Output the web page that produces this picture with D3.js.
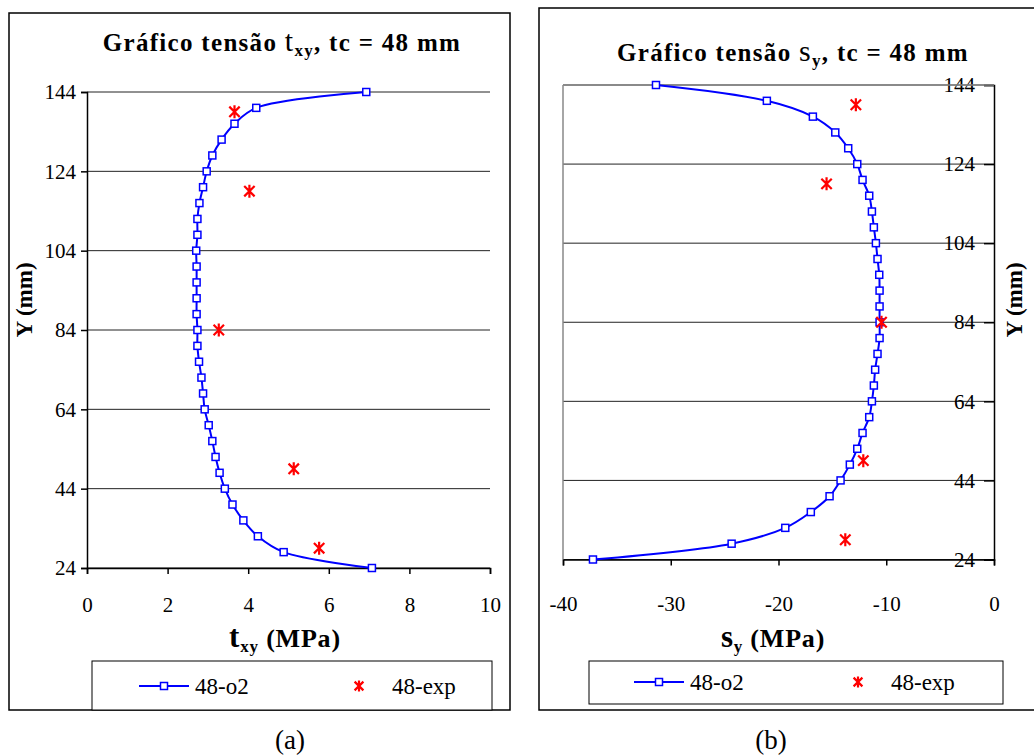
<!DOCTYPE html>
<html><head><meta charset="utf-8">
<script src="https://cdn.jsdelivr.net/npm/d3@7"></script>
<style>
body{margin:0;background:#fff;}
</style></head>
<body><svg id="c" width="1034" height="756"></svg>
<script>
// ---- data ----
const yPos = [24,28,32,36,40,44,48,52,56,60,64,68,72,76,80,84,88,92,96,100,104,108,112,116,120,124,128,132,136,140,144];
const tauXY = [7.07,4.88,4.24,3.88,3.61,3.42,3.29,3.19,3.11,3.02,2.92,2.88,2.84,2.78,2.74,2.74,2.72,2.72,2.72,2.72,2.71,2.74,2.74,2.79,2.88,2.97,3.11,3.34,3.66,4.20,6.93];
const sigmaY = [-37.22,-24.35,-19.37,-17.00,-15.26,-14.24,-13.38,-12.69,-12.20,-11.58,-11.33,-11.15,-11.03,-10.81,-10.62,-10.62,-10.62,-10.62,-10.65,-10.81,-10.96,-11.15,-11.33,-11.58,-12.20,-12.69,-13.53,-14.73,-16.81,-21.08,-31.37];
const expY = [139,119,84,49,29];
const expTau = [3.66,4.03,3.27,5.13,5.76];
const expSigma = [-12.82,-15.54,-10.44,-12.13,-13.80];
const yTicks = [24,44,64,84,104,124,144];
const tauTicks = [0,2,4,6,8,10];
const sigmaTicks = [-40,-30,-20,-10,0];
const seriesNames = ["48-o2","48-exp"];

const FONT = "Liberation Serif";
const svg = d3.select("#c").attr("font-family", FONT);
const blue = "#0000ff", red = "#ff0000";

function asterisk(g, x, y, r){
  const p = d3.path();
  p.moveTo(x, y-r); p.lineTo(x, y+r);
  const d = r*0.8;
  p.moveTo(x-d, y-d); p.lineTo(x+d, y+d);
  p.moveTo(x-d, y+d); p.lineTo(x+d, y-d);
  g.append("path").attr("d", p.toString()).attr("stroke", red).attr("stroke-width", 2.2).attr("fill","none");
}

function drawPanel(opt){
  const g = svg.append("g").attr("font-family", FONT);
  g.append("rect").attr("x",opt.box[0]).attr("y",opt.box[1]).attr("width",opt.box[2]).attr("height",opt.box[3])
    .attr("fill","none").attr("stroke","#000").attr("stroke-width",1.5);
  const x = d3.scaleLinear().domain(opt.xDomain).range(opt.xRange);
  const y = d3.scaleLinear().domain([24,144]).range(opt.yRange);
  g.append("g").selectAll("line").data(yTicks).join("line")
    .attr("x1",opt.xRange[0]).attr("x2",opt.xRange[1]).attr("y1",d=>y(d)).attr("y2",d=>y(d))
    .attr("stroke","#222").attr("stroke-width",1);
  const fmt = d => String(d);
  const xa = g.append("g").attr("transform",`translate(0,${opt.yRange[0]})`)
    .call(d3.axisBottom(x).tickValues(opt.xTicks).tickSize(6).tickPadding(opt.xPad).tickFormat(fmt));
  xa.attr("font-family", FONT);
  xa.select(".domain").attr("stroke","#000").attr("stroke-width",1.5);
  xa.selectAll(".tick line").attr("stroke","#000").attr("stroke-width",1.5);
  xa.selectAll("text").attr("font-family",FONT).attr("font-size",21).attr("fill","#000").attr("dy","0.71em");
  let ya;
  if(opt.right){
    ya = g.append("g").attr("transform",`translate(${opt.xRange[1]},0)`)
      .call(d3.axisLeft(y).tickValues(yTicks).tickSize(10).tickPadding(9).tickFormat(fmt));
    g.append("line").attr("x1",opt.xRange[0]).attr("x2",opt.xRange[0]).attr("y1",opt.yRange[1]).attr("y2",opt.yRange[0])
      .attr("stroke","#888").attr("stroke-width",1.5);
    g.append("line").attr("x1",opt.xRange[0]).attr("x2",opt.xRange[1]).attr("y1",opt.yRange[1]).attr("y2",opt.yRange[1])
      .attr("stroke","#888").attr("stroke-width",1.5);
  } else {
    ya = g.append("g").attr("transform",`translate(${opt.xRange[0]},0)`)
      .call(d3.axisLeft(y).tickValues(yTicks).tickSize(6).tickPadding(5).tickFormat(fmt));
  }
  ya.attr("font-family", FONT);
  ya.select(".domain").attr("stroke","#000").attr("stroke-width",1.5);
  ya.selectAll(".tick line").attr("stroke","#000").attr("stroke-width",1.5);
  ya.selectAll("text").attr("font-family",FONT).attr("font-size",21).attr("fill","#000");
  const line = d3.line().x(d=>x(d)).y((d,i)=>y(yPos[i])).curve(d3.curveCatmullRom.alpha(0.5));
  g.append("path").datum(opt.values).attr("d",line).attr("fill","none").attr("stroke",blue).attr("stroke-width",2);
  g.append("g").selectAll("rect").data(opt.values).join("rect")
    .attr("x",d=>x(d)-3.5).attr("y",(d,i)=>y(yPos[i])-3.5).attr("width",7).attr("height",7)
    .attr("fill","#fff").attr("stroke",blue).attr("stroke-width",1.5);
  opt.exp.forEach((v,i)=>asterisk(g, x(v), y(expY[i]), 6.5));
  // title
  const t = g.append("text").attr("x",opt.titleX).attr("y",opt.titleY).attr("text-anchor","middle")
    .attr("font-weight","bold").attr("font-size",25).attr("letter-spacing",1.3).attr("fill","#000");
  t.append("tspan").text("Gráfico tensão ");
  t.append("tspan").text(opt.sym).attr("font-size",30).attr("font-weight","normal");
  t.append("tspan").text(opt.sub).attr("font-size",17).attr("dy",5);
  t.append("tspan").text(", tc = 48 mm").attr("dy",-5);
  // x label
  const xl = g.append("text").attr("x",opt.xLabelX).attr("y",647).attr("text-anchor","middle")
    .attr("font-weight","bold").attr("font-size",26).attr("letter-spacing",0.8).attr("fill","#000");
  xl.append("tspan").text(opt.sym).attr("font-size",31);
  xl.append("tspan").text(opt.sub).attr("font-size",17).attr("dy",5);
  xl.append("tspan").text(" (MPa)").attr("dy",-5);
  // y label
  g.append("text").attr("transform",`translate(${opt.yLabelX},300) rotate(-90)`).attr("text-anchor","middle")
    .attr("font-weight","bold").attr("font-size",23).attr("fill","#000").text("Y (mm)");
  // legend
  const L = opt.legend;
  g.append("rect").attr("x",L.x).attr("y",L.y).attr("width",L.w).attr("height",L.h)
    .attr("fill","#fff").attr("stroke","#000").attr("stroke-width",1);
  g.append("line").attr("x1",L.lx).attr("x2",L.lx+50).attr("y1",L.cy).attr("y2",L.cy).attr("stroke",blue).attr("stroke-width",2);
  g.append("rect").attr("x",L.lx+25-3.5).attr("y",L.cy-3.5).attr("width",7).attr("height",7)
    .attr("fill","#fff").attr("stroke",blue).attr("stroke-width",1.5);
  g.append("text").attr("x",L.lx+56).attr("y",L.cy+8).attr("font-size",23).attr("fill","#000").text(seriesNames[0]);
  asterisk(g, L.ax, L.cy, 5.5);
  g.append("text").attr("x",L.ax+33).attr("y",L.cy+8).attr("font-size",23).attr("fill","#000").text(seriesNames[1]);
  // caption
  g.append("text").attr("x",opt.capX).attr("y",749).attr("text-anchor","middle").attr("font-size",27).attr("fill","#000").text(opt.cap);
}

drawPanel({
  box:[9,13,501,697], xDomain:[0,10], xRange:[87,490], yRange:[568,92], xTicks:tauTicks, xPad:23,
  values:tauXY, exp:expTau, right:false, sym:"t", sub:"xy", titleX:282, titleY:51,
  xLabelX:285, yLabelX:32, cap:"(a)", capX:290,
  legend:{x:92,y:661,w:400,h:49,lx:139,cy:686,ax:359}
});
drawPanel({
  box:[539,8,520,702], xDomain:[-40,0], xRange:[563,994], yRange:[559.5,85], xTicks:sigmaTicks, xPad:31,
  values:sigmaY, exp:expSigma, right:true, sym:"s", sub:"y", titleX:793, titleY:61,
  xLabelX:773, yLabelX:1022, cap:"(b)", capX:771,
  legend:{x:589,y:661,w:414,h:43,lx:634,cy:682,ax:858}
});
</script></body></html>
